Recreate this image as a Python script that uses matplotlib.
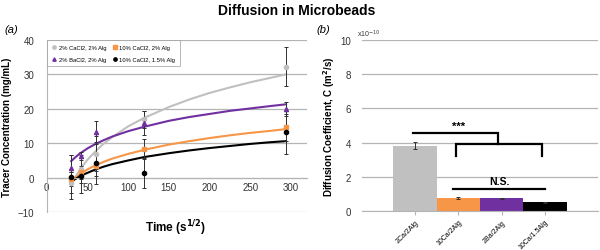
import matplotlib.pyplot as plt

plt.rcParams['font.family'] = ['Liberation Sans', 'DejaVu Sans']

# ---- panel (a) data: tracer concentration vs sqrt(time)
times = [30, 42.4, 60, 120, 293.9]

grey_pts = [-1.5, 2.5, 7.0, 17.0, 32.2]
grey_err = [3.0, 4.0, 5.0, 2.5, 5.6]
orange_pts = [-0.5, 1.5, 3.5, 8.3, 14.6]
orange_err = [2.0, 2.0, 3.0, 3.0, 4.0]
purple_pts = [2.7, 6.2, 13.2, 15.8, 19.9]
purple_err = [4.0, 1.2, 3.3, 3.5, 2.0]
black_pts = [0.2, 0.6, 4.3, 1.4, 13.2]
black_err = [6.5, 5.0, 6.0, 4.4, 6.2]

# trendlines
fit_x = [30, 35, 40, 45, 50, 60, 70, 80, 100, 120, 150, 175, 200, 225, 250, 275, 294]
grey_fit = [-2.0, 0.2, 2.0, 3.7, 5.2, 7.7, 9.9, 11.7, 14.9, 17.4, 20.5, 22.7, 24.6, 26.2, 27.7, 29.0, 30.0]
purple_fit = [4.8, 5.9, 6.9, 7.7, 8.5, 9.8, 10.9, 11.9, 13.5, 14.8, 16.5, 17.6, 18.5, 19.4, 20.1, 20.8, 21.3]
orange_fit = [-1.0, 0.0, 0.9, 1.7, 2.4, 3.6, 4.6, 5.5, 6.9, 8.1, 9.6, 10.6, 11.5, 12.3, 13.0, 13.6, 14.1]
black_fit = [-1.2, -0.4, 0.3, 0.9, 1.4, 2.4, 3.2, 3.9, 5.0, 6.0, 7.1, 7.9, 8.6, 9.2, 9.8, 10.3, 10.6]

# ---- panel (b) data: diffusion coefficients (x1e-10 m^2/s)
groups = ['2Ca/2Alg', '10Ca/2Alg', '2Ba/2Alg', '10Ca/1.5Alg']
coef = [3.82, 0.76, 0.75, 0.52]
coef_err = [0.2, 0.05, 0.02, 0.04]

GREY = '#c0c0c0'
ORANGE = '#f79646'
PURPLE = '#7030a0'
BLACK = '#000000'
GRID = '#b4b4b4'

fig = plt.figure(figsize=(6.0, 2.51), dpi=100)
fig.text(0.495, 0.955, 'Diffusion in Microbeads', ha='center', va='center',
         fontsize=10, fontweight='bold')

# ---------------- panel (a)
ax1 = fig.add_axes([0.078, 0.151, 0.434, 0.686])
series = [
    (grey_pts, grey_err, grey_fit, GREY, 'o', '2% CaCl2, 2% Alg'),
    (purple_pts, purple_err, purple_fit, PURPLE, '^', '2% BaCl2, 2% Alg'),
    (orange_pts, orange_err, orange_fit, ORANGE, 's', '10% CaCl2, 2% Alg'),
    (black_pts, black_err, black_fit, BLACK, 'o', '10% CaCl2, 1.5% Alg'),
]
handles = []
for pts, err, fit, col, mk, lab in series:
    ax1.errorbar(times, pts, yerr=err, fmt='none', ecolor='#303030',
                 elinewidth=0.7, capsize=1.5, capthick=0.7, zorder=3)
    h, = ax1.plot(times, pts, linestyle='none', marker=mk, color=col,
                  markersize=3, zorder=4, label=lab)
    ax1.plot(fit_x, fit, color=col, lw=1.5, zorder=2)
    handles.append(h)

ax1.set_xlim(0, 320)
ax1.set_ylim(-10, 40)
ax1.set_yticks(range(-10, 41, 10))
ax1.set_xticks(range(0, 301, 50))
ax1.yaxis.grid(True, color=GRID, lw=0.9)
ax1.set_axisbelow(True)
for s in ['top', 'right']:
    ax1.spines[s].set_visible(False)
ax1.spines['bottom'].set_position(('data', 0))
ax1.spines['bottom'].set_color(GRID)
ax1.spines['left'].set_color(GRID)
ax1.tick_params(axis='both', labelsize=7, length=0, colors='#333333')
ax1.tick_params(axis='y', pad=9)
ax1.tick_params(axis='x', pad=3)
ax1.set_ylabel('Tracer Concentration (mg/mL)', fontsize=7, fontweight='bold',
               labelpad=4)
fig.text(0.292, 1 - 228 / 251, 'Time (s$^{\\mathbf{1/2}}$)', ha='center',
         va='center', fontsize=8.5, fontweight='bold')
leg = ax1.legend(handles=handles, ncol=2, loc='upper left', fontsize=4.2,
                 frameon=True, fancybox=False, edgecolor='#9a9a9a',
                 borderaxespad=0.1, handlelength=0.8, handletextpad=0.4,
                 columnspacing=1.0, markerscale=0.8, borderpad=0.8,
                 labelspacing=1.1)
leg.get_frame().set_linewidth(0.6)
fig.text(0.008, 0.88, '(a)', fontsize=8, style='italic', va='center')

# ---------------- panel (b)
ax2 = fig.add_axes([0.603, 0.154, 0.394, 0.683])
xpos = list(range(len(groups)))
ax2.bar(xpos, coef, width=1.0, color=[GREY, ORANGE, PURPLE, BLACK], zorder=2)
ax2.errorbar(xpos, coef, yerr=coef_err, fmt='none', ecolor='#303030',
             elinewidth=0.7, capsize=1.2, capthick=0.7, zorder=3)
ax2.set_xlim(-1.22, 4.22)
ax2.set_ylim(0, 10)
ax2.set_yticks(range(0, 11, 2))
ax2.yaxis.grid(True, color=GRID, lw=0.9)
ax2.set_axisbelow(True)
for s in ['top', 'right', 'left']:
    ax2.spines[s].set_visible(False)
ax2.spines['bottom'].set_color(GRID)
ax2.set_xticks(xpos)
ax2.set_xticklabels(groups, rotation=45, ha='right', rotation_mode='anchor',
                    fontsize=5)
ax2.tick_params(axis='x', length=3, color=GRID, pad=2)
ax2.tick_params(axis='y', length=0, labelsize=7, pad=8, colors='#333333')
ax2.set_ylabel('Diffusion Coefficient, C (m$^{\\mathbf{2}}$/s)', fontsize=7,
               fontweight='bold', labelpad=2)
ax2.text(-0.02, 1.005, 'x10$^{-10}$', transform=ax2.transAxes, fontsize=5,
         va='bottom', ha='left', color='#333333')
fig.text(0.527, 0.88, '(b)', fontsize=8, style='italic', va='center')

# significance brackets
blw = 1.6
ax2.plot([-0.05, 1.92, 1.92], [4.55, 4.55, 3.9], color=BLACK, lw=blw,
         solid_joinstyle='miter', zorder=4)
ax2.plot([0.94, 0.94, 2.93, 2.93], [3.25, 3.9, 3.9, 3.25], color=BLACK,
         lw=blw, solid_joinstyle='miter', zorder=4)
ax2.text(1.0, 4.7, '***', ha='center', va='bottom', fontsize=8,
         fontweight='bold')
ax2.plot([0.88, 3.0], [1.3, 1.3], color=BLACK, lw=blw, zorder=4)
ax2.text(1.94, 1.45, 'N.S.', ha='center', va='bottom', fontsize=7.5,
         fontweight='bold')

fig.savefig('out.png', dpi=100)
